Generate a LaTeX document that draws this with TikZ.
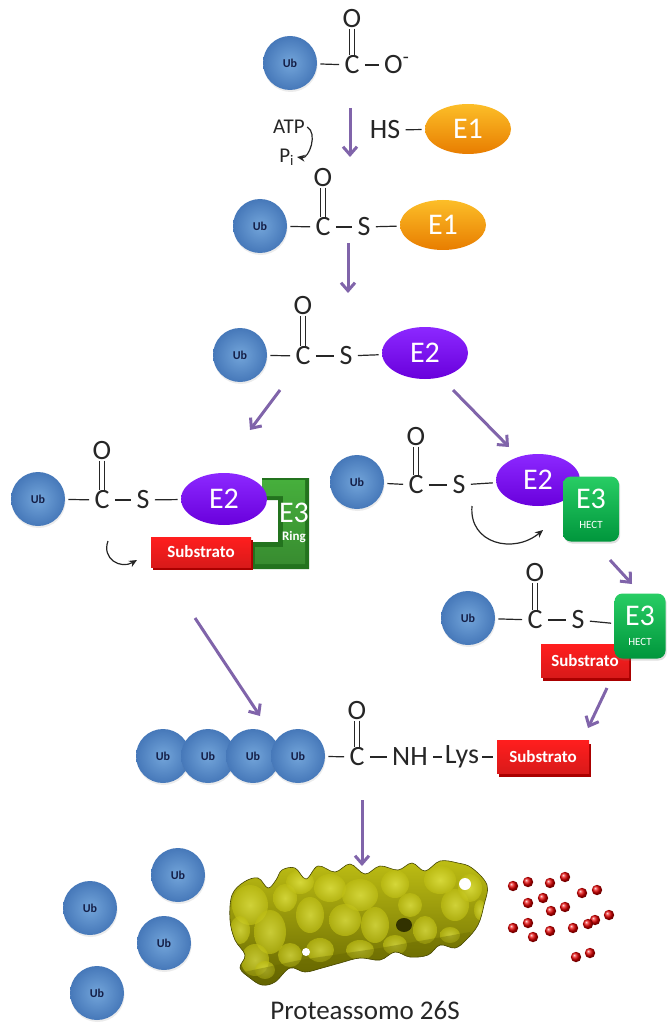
\documentclass[tikz,border=0pt]{standalone}
\usepackage{fontspec}
\setmainfont{Carlito}
\usetikzlibrary{arrows.meta,shapes.geometric,shadows}

\definecolor{ubdark}{RGB}{70,120,185}
\definecolor{ublight}{RGB}{115,165,218}
\definecolor{ubtext}{RGB}{20,30,70}
\definecolor{flow}{RGB}{128,100,170}
\definecolor{eoneA}{RGB}{252,190,40}
\definecolor{eoneB}{RGB}{232,125,0}
\definecolor{etwoA}{RGB}{140,40,255}
\definecolor{etwoB}{RGB}{105,0,220}
\definecolor{hectA}{RGB}{40,205,100}
\definecolor{hectB}{RGB}{0,150,60}
\definecolor{ringA}{RGB}{70,175,60}
\definecolor{ringB}{RGB}{35,115,30}
\definecolor{subA}{RGB}{255,30,30}
\definecolor{subB}{RGB}{170,0,0}
\definecolor{protA}{RGB}{235,238,80}
\definecolor{protM}{RGB}{190,190,20}
\definecolor{protB}{RGB}{100,100,0}

\tikzset{
  ub/.style={circle, minimum size=27pt, inner sep=0pt, shading=radial,
    inner color=ublight, outer color=ubdark, text=ubtext,
    font=\fontsize{6}{6}\selectfont\bfseries,
    drop shadow={opacity=0.15, shadow xshift=0.3pt, shadow yshift=-1pt}},
  chem/.style={inner sep=1pt, font=\fontsize{14}{14}\selectfont, text=black!85},
  small/.style={inner sep=1pt, font=\fontsize{10.5}{10.5}\selectfont, text=black!85},
  bond/.style={line width=0.6pt, black!85, shorten <=1.5pt, shorten >=1.5pt},
  dbond/.style={draw=black!85, double=white, double distance=1.6pt, line width=0.5pt,
    shorten <=-1pt, shorten >=-1pt},
  eone/.style={ellipse, minimum width=43pt, minimum height=25pt, inner sep=0pt,
    top color=eoneA, bottom color=eoneB, text=white, font=\fontsize{15}{15}\selectfont},
  etwo/.style={ellipse, minimum width=43pt, minimum height=26pt, inner sep=0pt,
    top color=etwoA, bottom color=etwoB, text=white, font=\fontsize{15}{15}\selectfont},
  hect/.style={rectangle, rounded corners=4pt, minimum width=28pt, minimum height=32.5pt,
    inner sep=0pt, top color=hectA, bottom color=hectB, text=white, align=center,
    font=\fontsize{15}{15}\selectfont,
    drop shadow={opacity=0.25, shadow xshift=0.6pt, shadow yshift=-1pt}},
  sub/.style={rectangle, minimum width=46pt, minimum height=16.5pt, inner sep=0pt,
    top color=subA, bottom color=subA!85!black, text=white,
    font=\fontsize{8.5}{8.5}\selectfont\bfseries,
    drop shadow={fill=subB, opacity=1, shadow xshift=1pt, shadow yshift=-1.5pt}},
  flowarrow/.style={draw=flow, line width=1.5pt, -{Straight Barb[length=4pt,width=7pt]}},
  turn/.style={draw=black!85, line width=0.6pt, -{Stealth[length=4pt,width=3.5pt]}},
}

\begin{document}
\begin{tikzpicture}[x=0.5pt, y=-0.5pt]
\useasboundingbox (0,0) rectangle (668,1027);

% Ub-COO-
\node[ub] (ub1) at (290,63) {Ub};
\node[chem] (c1) at (352,65) {C};
\node[chem] (o1) at (352,19) {O};
\node[chem] (om1) at (397,65) {O\textsuperscript{-}};
\draw[bond] (ub1) -- (c1);
\draw[bond] (c1) -- (om1.west);
\draw[dbond] (o1) -- (c1);

% activation by E1
\node[small] (atp) at (289,127) {ATP};
\node[small] (pi) at (287,157) {P\textsubscript{i}};
\draw[turn] (atp.east) to[bend left=80] (pi.east);
\node[chem] (hs) at (385,130) {HS};
\node[eone] (eoneA) at (468,129) {E1};
\draw[bond] (hs) -- (eoneA);

% Ub-CO-S-E1
\node[ub] (ub2) at (260,226) {Ub};
\node[chem] (c2) at (323,227) {C};
\node[chem] (o2) at (323,178) {O};
\node[chem] (s2) at (364,227) {S};
\node[eone] (eoneB) at (443,225) {E1};
\draw[bond] (ub2) -- (c2);
\draw[bond] (c2) -- (s2);
\draw[bond] (s2) -- (eoneB);
\draw[dbond] (o2) -- (c2);

% Ub-CO-S-E2
\node[ub] (ub3) at (240,355) {Ub};
\node[chem] (c3) at (303,356) {C};
\node[chem] (o3) at (303,306) {O};
\node[chem] (s3) at (346,356) {S};
\node[etwo] (etwoA) at (425,353) {E2};
\draw[bond] (ub3) -- (c3);
\draw[bond] (c3) -- (s3);
\draw[bond] (s3) -- (etwoA);
\draw[dbond] (o3) -- (c3);

% RING branch
\fill[ringB] (262,478) -- (309,478) -- (309,569) -- (252,569) -- (252,542)
  -- (278,542) -- (278,500) -- (262,500) -- cycle;
\shade[top color=ringA, bottom color=ringA!80!black] (262,480) -- (305,480) -- (305,564)
  -- (255,564) -- (255,547) -- (283,547) -- (283,496) -- (262,496) -- cycle;
\node[ub] (ub4) at (38,499) {Ub};
\node[chem] (c4) at (102,500) {C};
\node[chem] (o4) at (102,451) {O};
\node[chem] (s4) at (143,500) {S};
\node[etwo] (etwoB) at (224,499) {E2};
\draw[bond] (ub4) -- (c4);
\draw[bond] (c4) -- (s4);
\draw[bond] (s4) -- (etwoB);
\draw[dbond] (o4) -- (c4);
\node[text=white, font=\fontsize{15}{15}\selectfont] (ering) at (294,513) {E3};
\node[text=white, font=\fontsize{6.5}{6.5}\selectfont\bfseries] (ringlbl) at (294,537) {Ring};
\node[sub, minimum width=50pt, minimum height=15pt] (subA) at (201,552) {Substrato};
\coordinate (ringturnA) at (108,541);
\coordinate (ringturnB) at (137,560);
\draw[turn] (ringturnA) to[out=250, in=210, looseness=1.4] (ringturnB);

% HECT branch
\node[ub] (ub5) at (357,482) {Ub};
\node[chem] (c5) at (416,485) {C};
\node[chem] (o5) at (416,437) {O};
\node[chem] (s5) at (459,485) {S};
\node[etwo, minimum width=42pt] (etwoC) at (538,480) {E2};
\node[hect] (ehectA) at (591,509) {E3\\[-5pt]{\fontsize{5.5}{5.5}\selectfont HECT}};
\draw[bond] (ub5) -- (c5);
\draw[bond] (c5) -- (s5);
\draw[bond] (s5) -- (etwoC);
\draw[dbond] (o5) -- (c5);
\coordinate (hectturnA) at (472,506);
\coordinate (hectturnB) at (543,530);
\draw[turn] (hectturnA) to[out=265, in=220, looseness=1.3] (hectturnB);

% Ub-CO-S-E3 (HECT) with substrate
\node[ub] (ub6) at (468,618) {Ub};
\node[chem] (c6) at (535,620) {C};
\node[chem] (o6) at (535,573) {O};
\node[chem] (s6) at (578,620) {S};
\node[sub, minimum width=44pt] (subB) at (585,661) {Substrato};
\node[hect, minimum width=25.5pt] (ehectB) at (640,626) {E3\\[-5pt]{\fontsize{5.5}{5.5}\selectfont HECT}};
\draw[bond] (ub6) -- (c6);
\draw[bond] (c6) -- (s6);
\draw[bond] (s6) -- (ehectB);
\draw[dbond] (o6) -- (c6);

% polyubiquitinated substrate
\foreach \i/\x in {1/163, 2/208, 3/253, 4/298}
  \node[ub] (poly\i) at (\x,756) {Ub};
\node[chem] (c7) at (357,757) {C};
\node[chem] (o7) at (357,711) {O};
\node[chem] (nh) at (410,757) {NH};
\node[chem] (lys) at (462,757) {Lys};
\node[sub] (subC) at (543,757) {Substrato};
\draw[bond] (poly4) -- (c7);
\draw[bond] (c7) -- (nh);
\draw[bond, shorten >=0.5pt] (nh) -- (lys);
\draw[bond, shorten <=0.5pt, shorten >=2pt] (lys) -- (subC);
\draw[dbond] (o7) -- (c7);

% flow arrows
\coordinate (fA0) at (350,108);  \coordinate (fA1) at (350,157);
\coordinate (fB0) at (348,243);  \coordinate (fB1) at (348,293);
\coordinate (fC0) at (280,390);  \coordinate (fC1) at (250,430);
\coordinate (fD0) at (453,390);  \coordinate (fD1) at (509,447);
\coordinate (fE0) at (610,560);  \coordinate (fE1) at (632,584);
\coordinate (fF0) at (195,618);  \coordinate (fF1) at (260,716);
\coordinate (fG0) at (607,688);  \coordinate (fG1) at (588,728);
\coordinate (fH0) at (362,800);  \coordinate (fH1) at (362,866);
\foreach \a in {A,B,C,D,E,F,G,H}
  \draw[flowarrow] (f\a0) -- (f\a1);

% free ubiquitin
\node[ub] (freeA) at (178,875) {Ub};
\node[ub] (freeB) at (90,908) {Ub};
\node[ub] (freeC) at (164,943) {Ub};
\node[ub] (freeD) at (97,993) {Ub};

% 26S proteasome: lumpy surface clipped to its outline
\def\protoutline{plot[smooth cycle, tension=0.6] coordinates {
  (232,895) (244,882) (258,878) (268,888) (276,880) (282,870) (295,868) (306,879)
  (318,866) (335,872) (350,864) (365,874) (380,866) (398,870) (412,863) (425,871)
  (440,861) (458,863) (472,868) (487,885) (484,905) (478,925) (466,940) (455,948)
  (440,945) (428,955) (410,957) (395,952) (380,960) (360,958) (340,963) (322,968)
  (305,972) (290,968) (275,982) (262,985) (250,978) (240,968) (245,955) (235,940)
  (230,920)}}
\shade[top color=protM, bottom color=protB] \protoutline;
\begin{scope}
  \clip \protoutline;
  \foreach \x/\y/\rx/\ry in {250/905/18/20, 270/932/16/22, 255/960/14/16, 240/930/10/14,
    285/898/12/14, 300/882/14/12, 310/915/14/18, 330/888/16/14, 345/920/16/16,
    360/895/18/16, 375/925/14/18, 395/884/14/14, 410/905/12/12, 425/930/12/14,
    440/880/16/14, 455/905/14/16, 470/888/12/14, 450/935/10/8, 320/950/14/12,
    290/955/12/12, 395/945/12/10, 360/950/14/10, 480/910/6/10, 265/970/10/9}
    \shade[inner color=protA, outer color=protM, opacity=0.65]
      (\x,\y) ellipse ({\rx*0.5pt} and {\ry*0.5pt});
  \fill[protB, opacity=0.35] (230,975) -- (300,960) -- (380,948) -- (470,932)
    -- (490,990) -- (230,990) -- cycle;
\end{scope}
\draw[protB!70!black, line width=0.3pt] \protoutline;
\fill[protB!50!black] (404,925) ellipse (4pt and 3.5pt);
\fill[white] (465,884) ellipse (3pt and 3pt);
\fill[white] (306,952) ellipse (2pt and 2pt);
\node[font=\fontsize{13.5}{13.5}\selectfont, text=black!85] (prot) at (365,1010) {Proteassomo 26S};

% peptides
\foreach \x/\y in {513/886, 528/882, 550/883, 565/877, 582/893, 597/890, 528/903,
  543/898, 551/911, 565/907, 609/915, 595/920, 588/924, 573/928, 550/931, 528/923,
  513/928, 533/937, 576/957, 590/953}
  \shade[ball color=red!90!black] (\x,\y) circle (2.6pt);
\end{tikzpicture}
\end{document}
